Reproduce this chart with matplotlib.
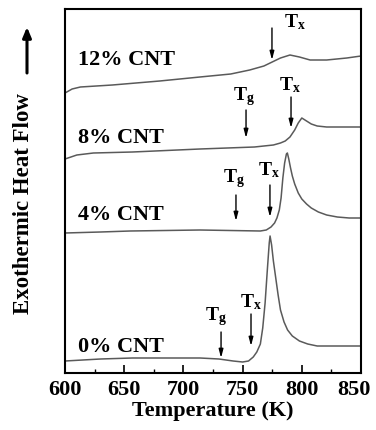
import matplotlib
matplotlib.use("Agg")
import matplotlib.pyplot as plt
from matplotlib.ticker import MultipleLocator
from matplotlib.transforms import ScaledTranslation

plt.rcParams['font.family'] = ['Liberation Serif', 'DejaVu Serif']
plt.rcParams['font.weight'] = 'bold'
plt.rcParams['mathtext.fontset'] = 'custom'
plt.rcParams['mathtext.rm'] = 'Liberation Serif:bold'
plt.rcParams['mathtext.bf'] = 'Liberation Serif:bold'
plt.rcParams['mathtext.it'] = 'Liberation Serif:bold'

# DSC traces (temperature in K, heat flow in arbitrary units, stacked)
t_12 = [600, 606, 613, 640, 680, 714, 740, 756, 768, 775, 782, 790, 798, 807, 821, 838, 850]
hf_12 = [280, 284, 286, 288, 292, 296, 299, 303, 307, 311, 315, 318, 316, 313, 313, 315, 317]

t_8 = [600, 605, 610, 624, 657, 714, 760, 776, 782, 786, 790, 794, 797, 800, 804, 808, 813, 821, 835, 850]
hf_8 = [214, 216, 218, 220, 221, 224, 226, 228, 230, 232, 236, 243, 250, 255, 252, 249, 247, 246, 246, 246]

t_4 = [600, 630, 655, 714, 765, 770, 774, 777, 779, 781, 782.5, 784, 785.5, 787, 787.8, 789, 790.5,
       792, 794, 797, 800, 804, 808, 814, 821, 830, 840, 850]
hf_4 = [140, 141, 142, 143, 142, 143, 146, 150, 155, 163, 175, 195, 210, 219, 220, 214, 205,
        197, 189, 180, 174, 169, 165, 161, 158, 156, 155, 155]

t_0 = [600, 615, 630, 657, 690, 714, 730, 742, 750, 755, 759, 762, 765, 767, 769, 771, 772.5,
       773.2, 774.5, 776, 778, 780, 782, 785, 788, 792, 798, 805, 813, 830, 850]
hf_0 = [12, 13, 14, 15, 15, 15, 14, 12, 11, 12, 16, 21, 29, 45, 70, 105, 130,
        137, 128, 112, 95, 78, 63, 51, 43, 37, 32, 29, 27, 27, 27]

curves = [(t_12, hf_12), (t_8, hf_8), (t_4, hf_4), (t_0, hf_0)]

# Sample names: (text, x, baseline y)
sample_names = ["12% CNT", "8% CNT", "4% CNT", "0% CNT"]
name_x = [611, 611, 611, 611]
name_y = [308, 230, 153, 21]

# Transition markers: label, arrow x, arrow start y, arrow tip y, label x, label baseline y
marker_text = [r"$\mathrm{T_x}$", r"$\mathrm{T_g}$", r"$\mathrm{T_x}$",
               r"$\mathrm{T_g}$", r"$\mathrm{T_x}$", r"$\mathrm{T_g}$", r"$\mathrm{T_x}$"]
arrow_t = [774.8, 752.9, 790.9, 744.4, 773.1, 731.8, 757.1]
arrow_from = [345, 263, 276, 178, 188, 41, 59]
arrow_to = [313, 235, 245, 152, 156, 15, 27]
label_t = [784.8, 741.9, 780.7, 733.4, 763.0, 718.2, 747.8]
label_y = [346, 273, 283, 191, 198, 53, 66]

# Temperature axis ticks
xticks = [600, 650, 700, 750, 800, 850]
xticklabels = ["600", "650", "700", "750", "800", "850"]

fig = plt.figure(figsize=(3.76, 4.30), dpi=100)
ax = fig.add_axes([65 / 376, 1 - 373 / 430, 296 / 376, 364 / 430])

for t, hf in curves:
    ax.plot(t, hf, color='#5a5a5a', lw=1.1, solid_joinstyle='round')

for name, x, y in zip(sample_names, name_x, name_y):
    ax.text(x, y, name, fontsize=16, fontweight='bold', ha='left', va='baseline')

for txt, xa, y0, y1, xl, yl in zip(marker_text, arrow_t, arrow_from, arrow_to, label_t, label_y):
    ax.annotate('', xy=(xa, y1), xytext=(xa, y0),
                arrowprops=dict(arrowstyle='-|>,head_length=0.5,head_width=0.13',
                                color='black', lw=1.0, shrinkA=0, shrinkB=0))
    ax.text(xl, yl, txt, fontsize=14, ha='left', va='baseline')

ax.set_xlim(600, 850)
ax.set_ylim(0, 364)
ax.set_xticks(xticks, xticklabels, fontsize=16, fontweight='bold')
ax.xaxis.set_minor_locator(MultipleLocator(25))
ax.tick_params(axis='x', which='major', direction='in', length=6, width=1.2,
               pad=5, top=False)
ax.tick_params(axis='x', which='minor', direction='in', length=3, width=1.0, top=False)
ax.set_yticks([])
# keep the right-most tick label inside the figure
for lbl in ax.get_xticklabels():
    if lbl.get_text() == "850":
        lbl.set_transform(lbl.get_transform() +
                          ScaledTranslation(-7 / 100, 0, fig.dpi_scale_trans))
for sp in ax.spines.values():
    sp.set_linewidth(1.5)

ax.set_xlabel("Temperature (K)", fontsize=16, fontweight='bold', labelpad=1)

fig.text(24 / 376, 1 - 204 / 430, "Exothermic Heat Flow", rotation=90,
         fontsize=16.5, fontweight='bold', ha='center', va='center')
fig.add_artist(plt.Annotation('', xy=(27 / 376, 1 - 27 / 430), xytext=(27 / 376, 1 - 73 / 430),
                              xycoords='figure fraction', textcoords='figure fraction',
                              arrowprops=dict(arrowstyle='-|>,head_length=0.6,head_width=0.25',
                                              color='black', lw=2.2, shrinkA=0, shrinkB=0)))

fig.savefig("out.png", dpi=100)
